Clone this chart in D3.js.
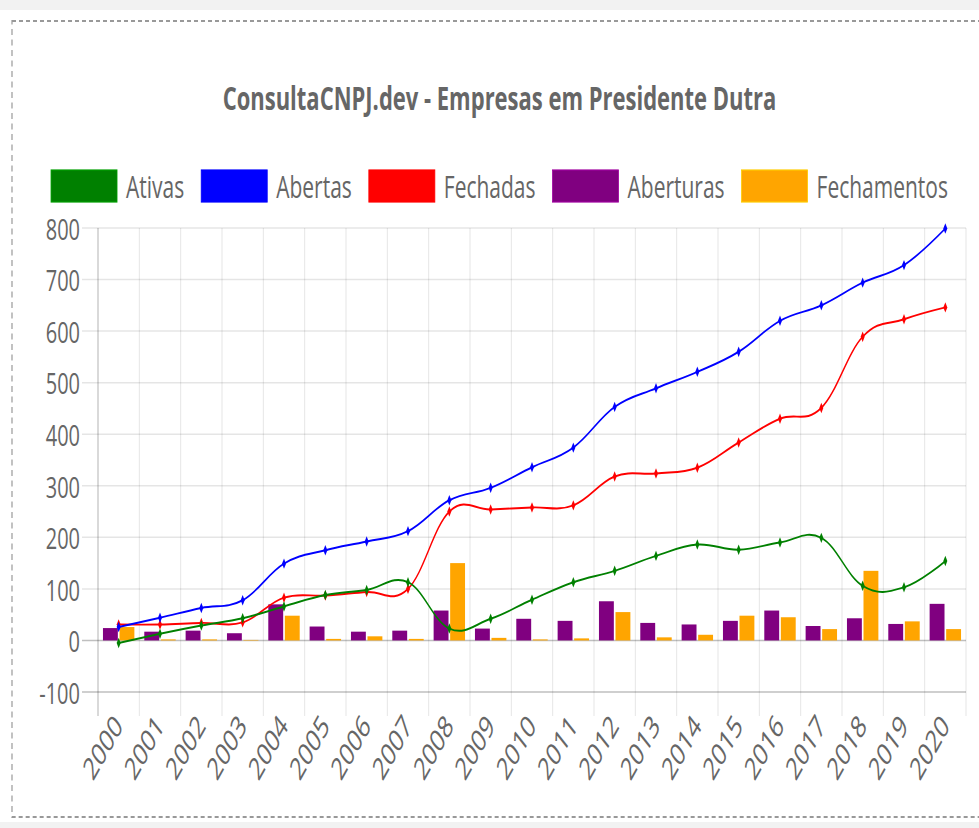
<!DOCTYPE html>
<html>
<head>
<meta charset="utf-8">
<script src="https://cdn.jsdelivr.net/npm/d3@7"></script>
<style>
html, body { margin: 0; padding: 0; background: #f2f2f2; overflow: hidden; }
svg { display: block; }
text { font-family: "Open Sans", sans-serif; fill: #666; }
</style>
</head>
<body>
<svg id="chart"></svg>
<script>
// dados
const years = ["2000","2001","2002","2003","2004","2005","2006","2007","2008","2009","2010",
               "2011","2012","2013","2014","2015","2016","2017","2018","2019","2020"];
const ativas = [-5,13,29,43,66,88,98,113,23,42,79,113,135,164,186,176,190,199,106,103,154];
const abertas = [26,44,63,78,149,175,192,212,272,296,336,374,453,489,521,560,620,650,694,728,799];
const fechadas = [31,31,34,35,83,87,94,100,250,254,258,262,318,324,335,384,430,451,589,623,646];
const aberturas = [24,17,19,14,70,27,17,19,58,23,42,38,76,34,31,38,58,28,43,32,71];
const fechamentos = [26,2,2,1,48,3,8,3,150,5,2,4,55,6,11,48,45,22,135,37,22];
const yTicks = [-100,0,100,200,300,400,500,600,700,800];

const legendItems = [
  {label: "Ativas", color: "green"},
  {label: "Abertas", color: "blue"},
  {label: "Fechadas", color: "red"},
  {label: "Aberturas", color: "purple"},
  {label: "Fechamentos", color: "orange"}
];

// the picture is stretched vertically, so draw in a squashed box
let W = 979, H = 828, sy = 1.5, VH = H / sy;
let svg = d3.select("#chart")
  .attr("width", W).attr("height", H)
  .attr("viewBox", "0 0 " + W + " " + VH)
  .attr("preserveAspectRatio", "none");

// fundo e borda tracejada
svg.append("rect").attr("x", 0).attr("y", 10 / sy).attr("width", W).attr("height", (822 - 10) / sy).attr("fill", "#fff");
svg.append("rect").attr("x", 12).attr("y", 21 / sy).attr("width", 1000).attr("height", (817 - 21) / sy)
  .attr("fill", "none").attr("stroke", "#999").attr("stroke-width", 1.2).attr("stroke-dasharray", "4,3");

let plotLeft = 98, plotRight = 966, plotTop = 228 / sy, plotBottom = 692 / sy, tickLen = 16;

let x = d3.scaleBand().domain(years).range([plotLeft, plotRight]).padding(0);
let bw = x.bandwidth();
let xSub = d3.scaleBand().domain(["ab", "fe"]).range([bw * 0.1, bw * 0.9]).paddingInner(0.1).paddingOuter(0.05);
let y = d3.scaleLinear().domain([-100, 800]).range([plotBottom, plotTop]);

// titulo
svg.append("text")
  .attr("x", 499.5).attr("y", 97 / sy)
  .attr("text-anchor", "middle").attr("dominant-baseline", "central")
  .style("font-weight", "bold").style("font-size", "22px")
  .text("ConsultaCNPJ.dev - Empresas em Presidente Dutra");

// legenda
let legend = svg.append("g");
let lx = 0;
legendItems.forEach((d, i) => {
  let g = legend.append("g").attr("transform", "translate(" + lx + ",0)");
  g.append("rect").attr("x", 0).attr("y", 170 / sy).attr("width", 66).attr("height", 32 / sy)
    .attr("fill", d.color).attr("stroke", d3.color(d.color).brighter(0.6)).attr("stroke-width", 0.8);
  let t = g.append("text").attr("x", 75).attr("y", 186 / sy)
    .attr("dominant-baseline", "central").style("font-size", "21px").text(d.label);
  lx += 75 + t.node().getComputedTextLength() + 17;
});
lx -= 17;
legend.attr("transform", "translate(" + (499.5 - lx / 2) + ",0)");

// grade
let grid = svg.append("g");
yTicks.forEach(v => {
  grid.append("line")
    .attr("x1", plotLeft - tickLen).attr("x2", plotRight)
    .attr("y1", y(v)).attr("y2", y(v))
    .attr("stroke", v == 0 || v == -100 ? "rgba(0,0,0,0.25)" : "rgba(0,0,0,0.1)")
    .attr("stroke-width", 1);
});
years.concat(["end"]).forEach((yr, i) => {
  let xx = yr == "end" ? plotRight : x(yr);
  grid.append("line")
    .attr("x1", xx).attr("x2", xx)
    .attr("y1", plotTop).attr("y2", plotBottom + tickLen)
    .attr("stroke", i == 0 ? "rgba(0,0,0,0.3)" : "rgba(0,0,0,0.1)")
    .attr("stroke-width", 1);
});

// eixo y
svg.append("g").selectAll("text").data(yTicks).join("text")
  .attr("x", 80).attr("y", d => y(d))
  .attr("text-anchor", "end").attr("dominant-baseline", "central")
  .style("font-size", "20px")
  .text(d => d);

// eixo x
svg.append("g").selectAll("text").data(years).join("text")
  .attr("transform", d => "translate(" + (x(d) + bw / 2 - 1) + "," + (plotBottom + tickLen + 2) + ") rotate(-50)")
  .attr("text-anchor", "end").attr("dominant-baseline", "central")
  .style("font-size", "21px")
  .text(d => d);

// barras
let bars = svg.append("g");
[["ab", aberturas, "purple"], ["fe", fechamentos, "orange"]].forEach(s => {
  bars.selectAll(null).data(s[1]).join("rect")
    .attr("x", (d, i) => x(years[i]) + xSub(s[0]))
    .attr("width", xSub.bandwidth())
    .attr("y", d => y(d))
    .attr("height", d => y(0) - y(d))
    .attr("fill", s[2]);
});

// linhas
let line = d3.line()
  .x((d, i) => x(years[i]) + bw / 2)
  .y(d => y(d))
  .curve(d3.curveCardinal.tension(-0.15));

[[fechadas, "red"], [abertas, "blue"], [ativas, "green"]].forEach(s => {
  svg.append("path").datum(s[0])
    .attr("d", line)
    .attr("fill", "none")
    .attr("stroke", s[1])
    .attr("stroke-width", 1.3);
  svg.append("g").selectAll("path").data(s[0]).join("path")
    .attr("transform", (d, i) => "translate(" + (x(years[i]) + bw / 2) + "," + y(d) + ")")
    .attr("d", d3.symbol(d3.symbolDiamond).size(14))
    .attr("fill", s[1]);
});
</script>
</body>
</html>
